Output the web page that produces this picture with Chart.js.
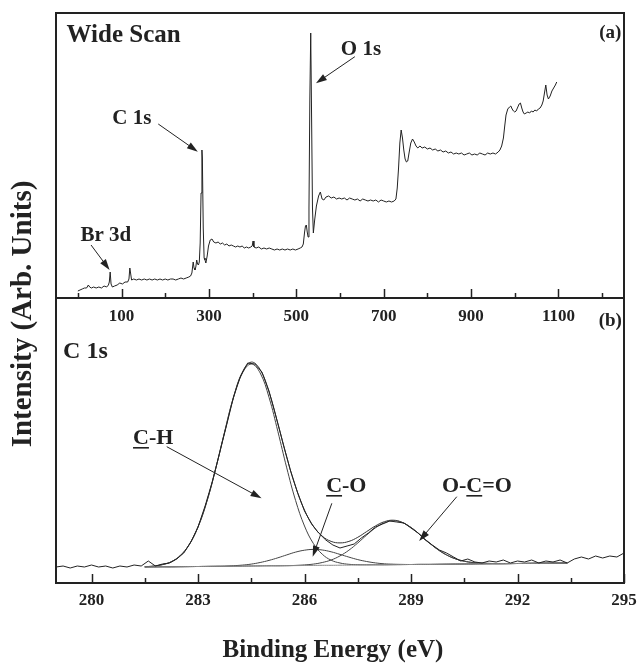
<!DOCTYPE html>
<html>
<head>
<meta charset="utf-8">
<script src="https://cdn.jsdelivr.net/npm/chart.js@4.4.1/dist/chart.umd.min.js"></script>
<style>
  html, body { margin: 0; padding: 0; background: #fff; }
  #wrap { position: relative; width: 640px; height: 663px; }
  #wrap canvas { position: absolute; left: 0; top: 0; }
</style>
</head>
<body>
<div id="wrap">
  <canvas id="wideChart" width="640" height="663"></canvas>
  <canvas id="c1sChart" width="640" height="663"></canvas>
</div>
<script>
// (a) wide scan ==============================
const wideBE = [
  0, 5, 10, 15, 20, 24, 27, 31, 36, 42, 48, 54, 60, 66, 70, 72, 74, 76, 79, 84,
  90, 96, 102, 108, 114, 117, 119, 121, 123, 128, 134, 140, 146, 152, 158, 164, 170, 176, 182, 188,
  194, 200, 206, 212, 218, 224, 230, 236, 242, 248, 254, 258, 261, 264, 266, 268, 270, 272, 274, 276,
  278, 280, 282, 284, 285, 287, 289, 291, 293, 296, 299, 303, 307, 311, 316, 321, 326, 331, 336, 341,
  346, 351, 356, 361, 366, 371, 376, 381, 386, 391, 396, 399, 401, 403, 408, 414, 420, 426, 432, 438,
  444, 450, 456, 462, 468, 474, 480, 486, 492, 498, 504, 509, 513, 516, 519, 521, 523, 525, 527, 529,
  531, 533, 535, 537, 539, 542, 546, 551, 555, 559, 563, 568, 574, 580, 586, 592, 598, 604, 610, 616,
  622, 628, 634, 640, 646, 652, 658, 664, 670, 676, 682, 688, 694, 700, 706, 712, 718, 724, 728, 731,
  734, 737, 740, 743, 746, 749, 752, 755, 758, 762, 766, 770, 774, 778, 783, 788, 794, 800, 806, 812,
  818, 824, 830, 836, 842, 848, 854, 860, 866, 872, 878, 884, 890, 896, 902, 908, 914, 920, 926, 932,
  938, 944, 950, 956, 962, 966, 970, 974, 977, 980, 984, 988, 991, 994, 997, 1000, 1003, 1006, 1010, 1013,
  1016, 1019, 1022, 1026, 1030, 1034, 1038, 1042, 1046, 1050, 1054, 1058, 1062, 1065, 1068, 1071, 1074, 1077, 1081, 1085,
  1089, 1093, 1096
];
const wideCounts = [
  7, 8, 9, 10, 10, 13, 11, 10, 11, 10, 11, 10, 12, 11, 13, 16, 26, 14, 11, 12,
  13, 15, 14, 16, 16, 19, 30, 24, 18, 19, 18, 19, 18, 19, 18, 19, 18, 19, 18, 19,
  18, 19, 18, 19, 19, 18, 19, 20, 19, 20, 21, 22, 25, 36, 30, 28, 31, 38, 34, 33,
  36, 55, 105, 148, 140, 70, 40, 38, 35, 42, 52, 58, 59, 56, 55, 56, 54, 55, 53, 54,
  52, 53, 52, 51, 52, 51, 52, 50, 51, 50, 51, 52, 57, 51, 50, 51, 49, 50, 49, 50,
  49, 48, 49, 48, 49, 48, 49, 48, 49, 48, 49, 50, 51, 54, 66, 72, 73, 66, 61, 90,
  200, 265, 180, 90, 65, 78, 92, 102, 106, 99, 98, 101, 102, 100, 101, 99, 100, 99, 100, 98,
  100, 99, 98, 99, 97, 99, 98, 97, 98, 97, 98, 96, 98, 97, 96, 97, 96, 97, 99, 110,
  130, 155, 168, 160, 148, 139, 136, 137, 145, 155, 159, 156, 152, 150, 152, 150, 151, 149, 150, 148,
  149, 147, 148, 146, 147, 145, 146, 144, 145, 144, 145, 143, 144, 145, 143, 144, 143, 145, 144, 143,
  145, 144, 145, 144, 146, 148, 152, 160, 172, 183, 189, 191, 192, 189, 187, 186, 187, 190, 194, 195,
  190, 186, 184, 185, 186, 185, 187, 186, 188, 187, 189, 190, 193, 197, 205, 213, 203, 199, 202, 207,
  210, 213, 216
];
const wideTicks = [100, 300, 500, 700, 900, 1100];
const wideMinorTicks = [0, 200, 400, 600, 800, 1000, 1200];

// (b) C 1s region ============================
const c1sBE = [
  279.0, 279.2, 279.4, 279.6, 279.8, 280.0, 280.2, 280.4, 280.6, 280.8,
  281.0, 281.2, 281.4, 281.6, 281.8, 282.0, 282.2, 282.4, 282.6, 282.8,
  283.0, 283.2, 283.4, 283.6, 283.8, 284.0, 284.2, 284.4, 284.6, 284.8,
  285.0, 285.2, 285.4, 285.6, 285.8, 286.0, 286.2, 286.4, 286.6, 286.8,
  287.0, 287.2, 287.4, 287.6, 287.8, 288.0, 288.2, 288.4, 288.6, 288.8,
  289.0, 289.2, 289.4, 289.6, 289.8, 290.0, 290.2, 290.4, 290.6, 290.8,
  291.0, 291.2, 291.4, 291.6, 291.8, 292.0, 292.2, 292.4, 292.6, 292.8,
  293.0, 293.2, 293.4, 293.6, 293.8, 294.0, 294.2, 294.4, 294.6, 294.8, 295.0
];
const c1sCounts = [
  16, 17, 15, 17, 16, 18, 16, 17, 15, 17,
  16, 18, 17, 22, 17, 19, 20, 24, 30, 41,
  56, 77, 101, 129, 157, 186, 207, 220, 219, 211,
  192, 166, 139, 113, 91, 72, 59, 50, 43, 38,
  35, 37, 39, 45, 50, 56, 59, 62, 61, 60,
  55, 50, 43, 38, 33, 30, 26, 22, 24, 21,
  20, 22, 21, 23, 20, 22, 21, 23, 20, 22,
  21, 23, 20, 24, 26, 24, 27, 25, 27, 26, 30
];

// fitted curves
const fitBE = [
  281.5, 281.75, 282, 282.25, 282.5, 282.75, 283, 283.25, 283.5, 283.75,
  284, 284.25, 284.5, 284.75, 285, 285.25, 285.5, 285.75, 286, 286.25,
  286.5, 286.75, 287, 287.25, 287.5, 287.75, 288, 288.25, 288.5, 288.75,
  289, 289.25, 289.5, 289.75, 290, 290.25, 290.5, 290.75, 291, 291.5,
  292, 292.5, 293, 293.4
];
const fitBackground = [
  16.0, 16.1, 16.2, 16.2, 16.3, 16.4, 16.5, 16.6, 16.7, 16.7,
  16.8, 16.9, 17.0, 17.1, 17.2, 17.2, 17.3, 17.4, 17.5, 17.6,
  17.7, 17.7, 17.8, 17.9, 18.0, 18.1, 18.2, 18.2, 18.3, 18.4,
  18.5, 18.6, 18.6, 18.7, 18.8, 18.9, 19.0, 19.1, 19.2, 19.3,
  19.5, 19.7, 19.8, 20.0
];
const fitCH = [
  16.3, 16.9, 18.4, 21.3, 27.4, 38.3, 56.0, 81.6, 114.5, 151.0,
  185.3, 209.9, 219.0, 210.1, 185.7, 151.5, 115.1, 82.4, 57.0, 39.5,
  28.8, 22.8, 20.0, 18.7, 18.3, 18.2, 18.2, 18.2, 18.3, 18.4,
  18.5, 18.6, 18.6, 18.7, 18.8, 18.9, 19.0, 19.1, 19.2, 19.3,
  19.5, 19.7, 19.8, 20.0
];
const fitCO = [
  16.0, 16.1, 16.2, 16.2, 16.3, 16.4, 16.5, 16.6, 16.7, 16.9,
  17.3, 17.9, 18.9, 20.5, 22.6, 25.2, 28.1, 30.9, 32.8, 33.6,
  33.0, 31.2, 28.6, 25.9, 23.4, 21.5, 20.1, 19.2, 18.8, 18.6,
  18.5, 18.6, 18.6, 18.7, 18.8, 18.9, 19.0, 19.1, 19.2, 19.3,
  19.5, 19.7, 19.8, 20.0
];
const fitOCO = [
  16.0, 16.1, 16.2, 16.2, 16.3, 16.4, 16.5, 16.6, 16.7, 16.7,
  16.8, 16.9, 17.0, 17.1, 17.2, 17.2, 17.3, 17.6, 18.1, 18.9,
  20.5, 23.0, 27.1, 32.8, 40.0, 47.9, 55.2, 60.3, 62.3, 60.5,
  55.5, 48.4, 40.6, 33.6, 28.1, 24.2, 21.8, 20.4, 19.8, 19.4,
  19.5, 19.7, 19.8, 20.0
];
const fitEnvelope = [
  16.3, 16.9, 18.4, 21.3, 27.4, 38.3, 56.0, 81.6, 114.5, 151.2,
  185.8, 210.9, 220.9, 213.5, 191.1, 159.5, 125.9, 96.1, 72.9, 56.8,
  46.9, 41.6, 40.1, 41.6, 45.7, 51.4, 57.1, 61.3, 62.8, 60.7,
  55.5, 48.4, 40.6, 33.6, 28.1, 24.2, 21.8, 20.4, 19.8, 19.4,
  19.5, 19.7, 19.8, 20.0
];
const c1sTicks = [280, 283, 286, 289, 292, 295];
const c1sMinorTicks = [281.5, 284.5, 287.5, 290.5, 293.5];

// annotations, in data units of each panel
const wideNotes = [
  { text: "Wide Scan", at: [-26, 256], size: 25 },
  { text: "(a)", at: [1244, 260], size: 19, align: "right" },
  { text: "C 1s", at: [79, 174], size: 21 },
  { text: "O 1s", at: [602, 243], size: 21 },
  { text: "Br 3d", at: [6, 57], size: 21 },
];
const wideArrows = [
  { from: [184, 174], to: [274.6, 146.3] },
  { from: [634, 241.3], to: [544.9, 214.7] },
  { from: [30.2, 53], to: [72.7, 28] },
];
const c1sNotes = [
  { text: "C 1s", at: [279.2, 225], size: 24 },
  { text: "(b)", at: [294.94, 257], size: 19, align: "right" },
  { text: "C-H", at: [281.17, 139], size: 22, underline: [0, 1] },
  { text: "C-O", at: [286.61, 91], size: 22, underline: [0, 1] },
  { text: "O-C=O", at: [289.87, 91], size: 22, underline: [2, 3] },
];
const c1sArrows = [
  { from: [282.12, 136.3], to: [284.79, 84.7] },
  { from: [286.77, 79.7], to: [286.23, 26.3] },
  { from: [290.29, 86.3], to: [289.23, 42] },
];

const SERIF = '"Liberation Serif", "Times New Roman", serif';
const INK = "#222";

function toPoints(xs, ys) {
  return xs.map((x, i) => ({ x: x, y: ys[i] }));
}

function toPx(chart, at) {
  return { x: chart.scales.x.getPixelForValue(at[0]), y: chart.scales.y.getPixelForValue(at[1]) };
}

function drawArrow(ctx, chart, a) {
  const p1 = toPx(chart, a.from);
  const p2 = toPx(chart, a.to);
  const ang = Math.atan2(p2.y - p1.y, p2.x - p1.x);
  const len = 11, half = 3.5;
  ctx.beginPath();
  ctx.moveTo(p1.x, p1.y);
  ctx.lineTo(p2.x - len * 0.6 * Math.cos(ang), p2.y - len * 0.6 * Math.sin(ang));
  ctx.stroke();
  ctx.beginPath();
  ctx.moveTo(p2.x, p2.y);
  ctx.lineTo(p2.x - len * Math.cos(ang) + half * Math.sin(ang), p2.y - len * Math.sin(ang) - half * Math.cos(ang));
  ctx.lineTo(p2.x - len * Math.cos(ang) - half * Math.sin(ang), p2.y - len * Math.sin(ang) + half * Math.cos(ang));
  ctx.closePath();
  ctx.fill();
}

function drawNote(ctx, chart, n) {
  const p = toPx(chart, n.at);
  ctx.font = "bold " + n.size + "px " + SERIF;
  ctx.textAlign = n.align || "left";
  ctx.textBaseline = "alphabetic";
  ctx.fillText(n.text, p.x, p.y);
  if (n.underline) {
    const pre = ctx.measureText(n.text.slice(0, n.underline[0])).width;
    const w = ctx.measureText(n.text.slice(n.underline[0], n.underline[1])).width;
    ctx.fillRect(p.x + pre, p.y + 3, w, 1.6);
  }
}

// frame, inward ticks and labels for one panel
function panelDeco(id, majors, minors, notes, arrows, extra) {
  return {
    id: id,
    afterDraw(chart) {
      const ctx = chart.ctx;
      const area = chart.chartArea;
      const xs = chart.scales.x;
      ctx.save();
      ctx.strokeStyle = INK;
      ctx.fillStyle = INK;
      ctx.lineWidth = 2;
      ctx.strokeRect(area.left, area.top, area.right - area.left, area.bottom - area.top);

      ctx.lineWidth = 1.5;
      majors.forEach((v) => {
        const px = Math.round(xs.getPixelForValue(v)) + 0.5;
        ctx.beginPath(); ctx.moveTo(px, area.bottom); ctx.lineTo(px, area.bottom - 9); ctx.stroke();
      });
      minors.forEach((v) => {
        const px = Math.round(xs.getPixelForValue(v)) + 0.5;
        ctx.beginPath(); ctx.moveTo(px, area.bottom); ctx.lineTo(px, area.bottom - 5); ctx.stroke();
      });

      ctx.lineWidth = 1;
      arrows.forEach((a) => drawArrow(ctx, chart, a));
      notes.forEach((n) => drawNote(ctx, chart, n));
      if (extra) extra(ctx, chart);
      ctx.restore();
    },
  };
}

function xAxis(min, max, ticks, pad) {
  return {
    type: "linear",
    min: min,
    max: max,
    grid: { display: false, drawTicks: false },
    border: { display: false },
    afterBuildTicks: (s) => { s.ticks = ticks.map((v) => ({ value: v })); },
    afterFit: (s) => {
      // fixed axis band; labels may hang past the frame edge
      s.height = 40;
      s.paddingLeft = 0;
      s.paddingRight = 0;
    },
    ticks: {
      autoSkip: false,
      maxRotation: 0,
      padding: pad,
      color: INK,
      font: { family: SERIF, size: 17, weight: "bold" },
      callback: (v) => String(v),
    },
  };
}

const baseOptions = {
  responsive: false,
  animation: false,
  events: [],
  plugins: { legend: { display: false }, tooltip: { enabled: false } },
};

// top panel
new Chart(document.getElementById("wideChart"), {
  type: "line",
  data: {
    datasets: [{
      data: toPoints(wideBE, wideCounts),
      borderColor: INK, borderWidth: 1, pointRadius: 0, tension: 0,
    }],
  },
  options: Object.assign({}, baseOptions, {
    layout: { padding: { left: 56, right: 16, top: 13, bottom: 325 } },
    scales: {
      x: xAxis(-50, 1250, wideTicks, 8),
      y: { display: false, min: 0, max: 285 },
    },
  }),
  plugins: [panelDeco("wideDeco", wideTicks, wideMinorTicks, wideNotes, wideArrows, (ctx) => {
    ctx.font = "bold 29px " + SERIF;
    ctx.textAlign = "center";
    ctx.textBaseline = "middle";
    ctx.translate(24, 314);
    ctx.rotate(-Math.PI / 2);
    ctx.fillText("Intensity (Arb. Units)", 0, 0);
  })],
});

// bottom panel
const fitLine = (ys, color) => ({
  data: toPoints(fitBE, ys),
  borderColor: color, borderWidth: 1, pointRadius: 0, tension: 0.4,
});

new Chart(document.getElementById("c1sChart"), {
  type: "line",
  data: {
    datasets: [
      { data: toPoints(c1sBE, c1sCounts), borderColor: INK, borderWidth: 1, pointRadius: 0, tension: 0 },
      fitLine(fitBackground, "#8a8a8a"),
      fitLine(fitCO, "#444"),
      fitLine(fitOCO, "#444"),
      fitLine(fitCH, "#444"),
      fitLine(fitEnvelope, "#333"),
    ],
  },
  options: Object.assign({}, baseOptions, {
    layout: { padding: { left: 56, right: 16, top: 298, bottom: 40 } },
    scales: {
      x: xAxis(279, 295, c1sTicks, 7),
      y: { display: false, min: 0, max: 285 },
    },
  }),
  plugins: [panelDeco("c1sDeco", c1sTicks, c1sMinorTicks, c1sNotes, c1sArrows, (ctx) => {
    ctx.font = "bold 25px " + SERIF;
    ctx.textAlign = "center";
    ctx.textBaseline = "alphabetic";
    ctx.fillText("Binding Energy (eV)", 333, 657);
  })],
});
</script>
</body>
</html>
